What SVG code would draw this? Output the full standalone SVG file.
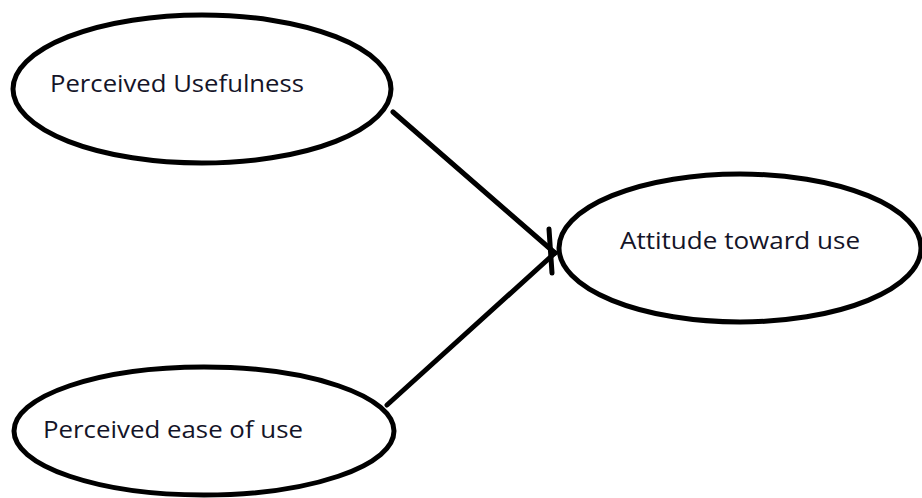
<svg xmlns="http://www.w3.org/2000/svg" width="922" height="498" viewBox="0 0 922 498">
  <style>
    .node ellipse { fill: #ffffff; stroke: #000000; stroke-width: 5; }
    .node text { font-family: "Open Sans", "Noto Sans", "Liberation Sans", sans-serif; font-size: 23px; fill: #141428; }
    .edge { stroke: #000000; stroke-width: 5; stroke-linecap: round; fill: none; }
  </style>
  <rect width="922" height="498" fill="#ffffff"/>

  <g id="connectors">
    <line class="edge" x1="393" y1="112" x2="555" y2="253"/>
    <line class="edge" x1="387" y1="405" x2="555" y2="253"/>
    <!-- hand-drawn arrow tick at the target -->
    <line class="edge" x1="549" y1="229" x2="552" y2="273"/>
  </g>

  <g id="perceived-usefulness" class="node">
    <ellipse cx="202" cy="89" rx="189" ry="74"/>
    <text x="50" y="92" textLength="254" lengthAdjust="spacingAndGlyphs">Perceived Usefulness</text>
  </g>

  <g id="perceived-ease-of-use" class="node">
    <ellipse cx="204" cy="431" rx="190" ry="64"/>
    <text x="43" y="438" textLength="260" lengthAdjust="spacingAndGlyphs">Perceived ease of use</text>
  </g>

  <g id="attitude-toward-use" class="node">
    <ellipse cx="740" cy="248" rx="181" ry="74"/>
    <text x="620" y="249" textLength="240" lengthAdjust="spacingAndGlyphs">Attitude toward use</text>
  </g>
</svg>
